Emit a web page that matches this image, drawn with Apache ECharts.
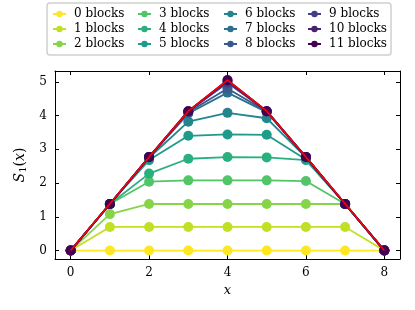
<!DOCTYPE html>
<html><head><meta charset="utf-8">
<script src="https://cdn.jsdelivr.net/npm/echarts@6/dist/echarts.min.js"></script>
<style>html,body{margin:0;padding:0;background:#fff}#c{width:415px;height:310px}</style>
</head><body><div id="c"></div>
<script>
const xs = [0,1,2,3,4,5,6,7,8];
const xTicks = [0,2,4,6,8];
const yTicks = [0,1,2,3,4,5];
const names = ['0 blocks','1 blocks','2 blocks','3 blocks','4 blocks','5 blocks','6 blocks','7 blocks','8 blocks','9 blocks','10 blocks','11 blocks'];
const colors = ['#fde725','#c2df23','#86d549','#52c569','#2ab07f','#1e9b8a','#25858e','#2d708e','#38598c','#433e85','#482173','#440154'];
const s0  = [0,0,0,0,0,0,0,0,0];
const s1  = [0,0.70,0.70,0.70,0.70,0.70,0.70,0.70,0];
const s2  = [0,1.08,1.38,1.38,1.38,1.38,1.38,1.38,0];
const s3  = [0,1.38,2.04,2.08,2.08,2.08,2.06,1.38,0];
const s4  = [0,1.38,2.28,2.72,2.77,2.76,2.68,1.38,0];
const s5  = [0,1.38,2.68,3.40,3.44,3.43,2.70,1.38,0];
const s6  = [0,1.38,2.75,3.82,4.08,3.92,2.76,1.38,0];
const s7  = [0,1.38,2.77,4.06,4.68,4.10,2.77,1.38,0];
const s8  = [0,1.38,2.77,4.10,4.80,4.12,2.77,1.38,0];
const s9  = [0,1.38,2.77,4.12,4.97,4.13,2.77,1.38,0];
const s10 = [0,1.38,2.77,4.13,5.03,4.13,2.77,1.38,0];
const s11 = [0,1.38,2.77,4.13,5.05,4.13,2.77,1.38,0];
const exact = [0,1.386,2.77,4.13,5.05,4.13,2.77,1.386,0];
const seriesData = [s0,s1,s2,s3,s4,s5,s6,s7,s8,s9,s10,s11];

const font = 'DejaVu Serif';
const chart = echarts.init(document.getElementById('c'), null, {renderer:'canvas'});
const series = seriesData.map((d,i)=>({
  name: names[i], type:'line', data: d.map((v,j)=>[xs[j],v]),
  symbol:'circle', symbolSize:10, showSymbol:true,
  lineStyle:{width:1.8,color:colors[i]}, itemStyle:{color:colors[i]},
  z: 2+i, animation:false, emphasis:{disabled:true}
}));
series.push({name:'exact',type:'line',data:exact.map((v,j)=>[xs[j],v]),symbol:'none',
  lineStyle:{width:1.6,color:'#ff0000'},z:20,animation:false,emphasis:{disabled:true}});

const legendCols = [0,1,2,3].map(c=>({
  orient:'vertical', left:[47,132,218,302][c], top:2,
  data: names.slice(c*3,c*3+3),
  itemWidth:13, itemHeight:8, itemGap:1,
  textStyle:{fontFamily:font,fontSize:12,color:'#000',lineHeight:14,padding:[0,0,0,3]},
  selectedMode:false
}));

const axisCommon = {
  type:'value', splitLine:{show:false},
  axisLine:{show:true,onZero:false,lineStyle:{color:'#000',width:1}},
  axisTick:{show:true,inside:true,length:4,lineStyle:{color:'#000'}},
};
chart.setOption({
  backgroundColor:'#fff',
  animation:false,
  grid:{left:55,right:15,top:71,bottom:51,show:false},
  legend: legendCols,
  graphic:[{type:'rect',shape:{x:47,y:3,width:344,height:52,r:3},
    style:{fill:'#fff',stroke:'#d0d0d0',lineWidth:1.5},z:-1}],
  xAxis:[
    Object.assign({},axisCommon,{min:-0.4,max:8.4,position:'bottom',
      axisTick:Object.assign({},axisCommon.axisTick,{customValues:xTicks}),
      axisLabel:{customValues:xTicks,fontFamily:font,fontSize:12,color:'#000',margin:8},
      name:'x',nameLocation:'middle',nameGap:25,
      nameTextStyle:{fontFamily:font,fontStyle:'italic',fontSize:13,color:'#000'}}),
    Object.assign({},axisCommon,{min:-0.4,max:8.4,position:'top',
      axisTick:Object.assign({},axisCommon.axisTick,{customValues:xTicks}),
      axisLabel:{show:false}})
  ],
  yAxis:[
    Object.assign({},axisCommon,{min:-0.25,max:5.32,position:'left',
      axisTick:Object.assign({},axisCommon.axisTick,{customValues:yTicks}),
      axisLabel:{customValues:yTicks,fontFamily:font,fontSize:12,color:'#000',margin:8},
      name:'{i|S}{sub|1}{n|(}{i|x}{n|)}',nameLocation:'middle',nameGap:25,
      nameTextStyle:{fontFamily:font,fontSize:13,color:'#000',rich:{
        i:{fontFamily:font,fontStyle:'italic',fontSize:14},
        sub:{fontFamily:font,fontSize:10,verticalAlign:'bottom',padding:[6,0,0,0]},
        n:{fontFamily:font,fontSize:14}}}}),
    Object.assign({},axisCommon,{min:-0.25,max:5.32,position:'right',
      axisTick:Object.assign({},axisCommon.axisTick,{customValues:yTicks}),
      axisLabel:{show:false}})
  ],
  series: series
});
</script></body></html>
